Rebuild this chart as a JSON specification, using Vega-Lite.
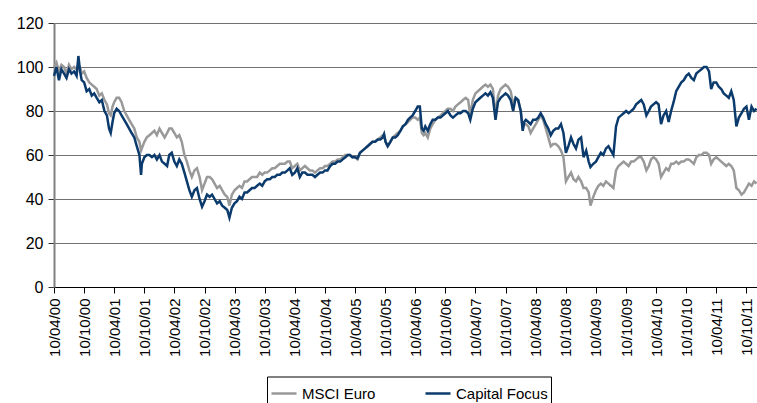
{
  "$schema": "https://vega.github.io/schema/vega-lite/v6.json",
  "width": 703,
  "height": 264,
  "autosize": {"type": "none"},
  "padding": {"left": 54, "top": 23, "right": 0, "bottom": 116},
  "background": "white",
  "config": {"font": "Liberation Sans", "view": {"stroke": null}},
  "data": {"values": [
    {"d":"2000-04-10","MSCI Euro":100,"Capital Focus":96},
    {"d":"2000-04-25","MSCI Euro":102,"Capital Focus":100},
    {"d":"2000-05-10","MSCI Euro":98,"Capital Focus":94},
    {"d":"2000-05-25","MSCI Euro":101,"Capital Focus":99},
    {"d":"2000-06-10","MSCI Euro":100,"Capital Focus":97},
    {"d":"2000-06-25","MSCI Euro":97,"Capital Focus":95},
    {"d":"2000-07-10","MSCI Euro":101,"Capital Focus":99},
    {"d":"2000-07-25","MSCI Euro":99,"Capital Focus":97},
    {"d":"2000-08-10","MSCI Euro":100,"Capital Focus":98},
    {"d":"2000-08-25","MSCI Euro":99,"Capital Focus":96},
    {"d":"2000-09-05","MSCI Euro":101,"Capital Focus":105},
    {"d":"2000-09-15","MSCI Euro":100,"Capital Focus":98},
    {"d":"2000-09-25","MSCI Euro":97,"Capital Focus":94},
    {"d":"2000-10-10","MSCI Euro":98,"Capital Focus":93},
    {"d":"2000-10-25","MSCI Euro":95,"Capital Focus":89},
    {"d":"2000-11-10","MSCI Euro":93,"Capital Focus":90},
    {"d":"2000-11-25","MSCI Euro":92,"Capital Focus":87},
    {"d":"2000-12-10","MSCI Euro":91,"Capital Focus":88},
    {"d":"2000-12-25","MSCI Euro":90,"Capital Focus":86},
    {"d":"2001-01-10","MSCI Euro":87,"Capital Focus":84},
    {"d":"2001-01-25","MSCI Euro":88,"Capital Focus":85},
    {"d":"2001-02-10","MSCI Euro":85,"Capital Focus":80},
    {"d":"2001-02-25","MSCI Euro":83,"Capital Focus":78},
    {"d":"2001-03-10","MSCI Euro":79,"Capital Focus":72},
    {"d":"2001-03-20","MSCI Euro":78,"Capital Focus":70},
    {"d":"2001-03-31","MSCI Euro":82,"Capital Focus":75},
    {"d":"2001-04-10","MSCI Euro":84,"Capital Focus":79},
    {"d":"2001-04-25","MSCI Euro":86,"Capital Focus":81},
    {"d":"2001-05-10","MSCI Euro":86,"Capital Focus":80},
    {"d":"2001-05-25","MSCI Euro":84,"Capital Focus":78},
    {"d":"2001-06-10","MSCI Euro":80,"Capital Focus":76},
    {"d":"2001-06-25","MSCI Euro":78,"Capital Focus":74},
    {"d":"2001-07-10","MSCI Euro":76,"Capital Focus":72},
    {"d":"2001-07-25","MSCI Euro":74,"Capital Focus":70},
    {"d":"2001-08-10","MSCI Euro":72,"Capital Focus":68},
    {"d":"2001-08-25","MSCI Euro":68,"Capital Focus":64},
    {"d":"2001-09-10","MSCI Euro":66,"Capital Focus":60},
    {"d":"2001-09-20","MSCI Euro":62,"Capital Focus":51},
    {"d":"2001-09-25","MSCI Euro":63,"Capital Focus":56},
    {"d":"2001-10-10","MSCI Euro":66,"Capital Focus":59},
    {"d":"2001-10-25","MSCI Euro":68,"Capital Focus":60},
    {"d":"2001-11-10","MSCI Euro":69,"Capital Focus":60},
    {"d":"2001-11-25","MSCI Euro":70,"Capital Focus":59},
    {"d":"2001-12-10","MSCI Euro":71,"Capital Focus":60},
    {"d":"2001-12-25","MSCI Euro":69,"Capital Focus":58},
    {"d":"2002-01-10","MSCI Euro":72,"Capital Focus":60},
    {"d":"2002-01-25","MSCI Euro":70,"Capital Focus":57},
    {"d":"2002-02-10","MSCI Euro":68,"Capital Focus":56},
    {"d":"2002-02-25","MSCI Euro":70,"Capital Focus":55},
    {"d":"2002-03-10","MSCI Euro":72,"Capital Focus":60},
    {"d":"2002-03-25","MSCI Euro":72,"Capital Focus":61},
    {"d":"2002-04-10","MSCI Euro":70,"Capital Focus":57},
    {"d":"2002-04-25","MSCI Euro":68,"Capital Focus":55},
    {"d":"2002-05-10","MSCI Euro":69,"Capital Focus":58},
    {"d":"2002-05-25","MSCI Euro":66,"Capital Focus":56},
    {"d":"2002-06-10","MSCI Euro":60,"Capital Focus":52},
    {"d":"2002-06-25","MSCI Euro":57,"Capital Focus":48},
    {"d":"2002-07-10","MSCI Euro":53,"Capital Focus":44},
    {"d":"2002-07-25","MSCI Euro":50,"Capital Focus":41},
    {"d":"2002-08-10","MSCI Euro":53,"Capital Focus":44},
    {"d":"2002-08-25","MSCI Euro":54,"Capital Focus":45},
    {"d":"2002-09-10","MSCI Euro":50,"Capital Focus":40},
    {"d":"2002-09-25","MSCI Euro":44,"Capital Focus":36.5},
    {"d":"2002-10-10","MSCI Euro":47,"Capital Focus":39},
    {"d":"2002-10-25","MSCI Euro":50,"Capital Focus":42},
    {"d":"2002-11-10","MSCI Euro":50,"Capital Focus":41},
    {"d":"2002-11-25","MSCI Euro":49,"Capital Focus":42},
    {"d":"2002-12-10","MSCI Euro":47,"Capital Focus":40},
    {"d":"2002-12-25","MSCI Euro":45,"Capital Focus":38},
    {"d":"2003-01-10","MSCI Euro":46,"Capital Focus":39},
    {"d":"2003-01-25","MSCI Euro":44,"Capital Focus":37},
    {"d":"2003-02-10","MSCI Euro":42,"Capital Focus":36},
    {"d":"2003-02-25","MSCI Euro":41,"Capital Focus":35},
    {"d":"2003-03-10","MSCI Euro":37,"Capital Focus":31.5},
    {"d":"2003-03-25","MSCI Euro":42,"Capital Focus":36},
    {"d":"2003-04-10","MSCI Euro":44,"Capital Focus":38},
    {"d":"2003-04-25","MSCI Euro":45,"Capital Focus":39},
    {"d":"2003-05-10","MSCI Euro":46,"Capital Focus":41},
    {"d":"2003-05-25","MSCI Euro":45,"Capital Focus":40},
    {"d":"2003-06-10","MSCI Euro":48,"Capital Focus":43},
    {"d":"2003-06-25","MSCI Euro":48,"Capital Focus":43},
    {"d":"2003-07-10","MSCI Euro":49,"Capital Focus":44},
    {"d":"2003-07-25","MSCI Euro":50,"Capital Focus":45},
    {"d":"2003-08-10","MSCI Euro":50,"Capital Focus":45},
    {"d":"2003-08-25","MSCI Euro":50,"Capital Focus":46},
    {"d":"2003-09-10","MSCI Euro":52,"Capital Focus":47},
    {"d":"2003-09-25","MSCI Euro":51,"Capital Focus":46},
    {"d":"2003-10-10","MSCI Euro":52,"Capital Focus":48},
    {"d":"2003-10-25","MSCI Euro":52,"Capital Focus":49},
    {"d":"2003-11-10","MSCI Euro":53,"Capital Focus":49},
    {"d":"2003-11-25","MSCI Euro":54,"Capital Focus":50},
    {"d":"2003-12-10","MSCI Euro":54,"Capital Focus":50},
    {"d":"2003-12-25","MSCI Euro":55,"Capital Focus":51},
    {"d":"2004-01-10","MSCI Euro":56,"Capital Focus":51},
    {"d":"2004-01-25","MSCI Euro":56,"Capital Focus":52},
    {"d":"2004-02-10","MSCI Euro":56,"Capital Focus":52},
    {"d":"2004-02-25","MSCI Euro":57,"Capital Focus":53},
    {"d":"2004-03-10","MSCI Euro":57,"Capital Focus":54},
    {"d":"2004-03-25","MSCI Euro":54,"Capital Focus":51},
    {"d":"2004-04-10","MSCI Euro":55,"Capital Focus":52},
    {"d":"2004-04-25","MSCI Euro":56,"Capital Focus":54},
    {"d":"2004-05-10","MSCI Euro":53,"Capital Focus":50},
    {"d":"2004-05-25","MSCI Euro":54,"Capital Focus":52},
    {"d":"2004-06-10","MSCI Euro":55,"Capital Focus":52},
    {"d":"2004-06-25","MSCI Euro":54,"Capital Focus":51},
    {"d":"2004-07-10","MSCI Euro":53,"Capital Focus":51},
    {"d":"2004-07-25","MSCI Euro":53,"Capital Focus":51},
    {"d":"2004-08-10","MSCI Euro":52,"Capital Focus":50},
    {"d":"2004-08-25","MSCI Euro":53,"Capital Focus":51},
    {"d":"2004-09-10","MSCI Euro":54,"Capital Focus":52},
    {"d":"2004-09-25","MSCI Euro":54,"Capital Focus":52},
    {"d":"2004-10-10","MSCI Euro":55,"Capital Focus":53},
    {"d":"2004-10-25","MSCI Euro":55,"Capital Focus":53},
    {"d":"2004-11-10","MSCI Euro":56,"Capital Focus":55},
    {"d":"2004-11-25","MSCI Euro":57,"Capital Focus":56},
    {"d":"2004-12-10","MSCI Euro":57,"Capital Focus":56},
    {"d":"2004-12-25","MSCI Euro":58,"Capital Focus":57},
    {"d":"2005-01-10","MSCI Euro":58,"Capital Focus":57},
    {"d":"2005-01-25","MSCI Euro":59,"Capital Focus":58},
    {"d":"2005-02-10","MSCI Euro":60,"Capital Focus":59},
    {"d":"2005-02-25","MSCI Euro":60,"Capital Focus":60},
    {"d":"2005-03-10","MSCI Euro":60,"Capital Focus":60},
    {"d":"2005-03-25","MSCI Euro":59,"Capital Focus":59},
    {"d":"2005-04-10","MSCI Euro":59,"Capital Focus":59},
    {"d":"2005-04-25","MSCI Euro":58,"Capital Focus":58.5},
    {"d":"2005-05-10","MSCI Euro":61,"Capital Focus":61},
    {"d":"2005-05-25","MSCI Euro":62,"Capital Focus":62},
    {"d":"2005-06-10","MSCI Euro":63,"Capital Focus":63},
    {"d":"2005-06-25","MSCI Euro":64,"Capital Focus":64},
    {"d":"2005-07-10","MSCI Euro":65,"Capital Focus":65},
    {"d":"2005-07-25","MSCI Euro":66,"Capital Focus":66},
    {"d":"2005-08-10","MSCI Euro":66,"Capital Focus":66},
    {"d":"2005-08-25","MSCI Euro":67,"Capital Focus":67},
    {"d":"2005-09-10","MSCI Euro":68,"Capital Focus":67},
    {"d":"2005-09-25","MSCI Euro":69,"Capital Focus":68},
    {"d":"2005-10-03","MSCI Euro":69,"Capital Focus":69.5},
    {"d":"2005-10-12","MSCI Euro":66,"Capital Focus":66},
    {"d":"2005-10-25","MSCI Euro":64,"Capital Focus":64},
    {"d":"2005-11-10","MSCI Euro":66,"Capital Focus":66},
    {"d":"2005-11-25","MSCI Euro":68,"Capital Focus":68},
    {"d":"2005-12-10","MSCI Euro":69,"Capital Focus":68},
    {"d":"2005-12-25","MSCI Euro":70,"Capital Focus":69},
    {"d":"2006-01-10","MSCI Euro":71,"Capital Focus":71},
    {"d":"2006-01-25","MSCI Euro":73,"Capital Focus":73},
    {"d":"2006-02-10","MSCI Euro":74,"Capital Focus":74},
    {"d":"2006-02-25","MSCI Euro":75,"Capital Focus":76},
    {"d":"2006-03-10","MSCI Euro":76,"Capital Focus":77},
    {"d":"2006-03-25","MSCI Euro":77,"Capital Focus":78},
    {"d":"2006-04-10","MSCI Euro":77,"Capital Focus":80},
    {"d":"2006-04-25","MSCI Euro":76,"Capital Focus":82},
    {"d":"2006-05-08","MSCI Euro":77,"Capital Focus":82},
    {"d":"2006-05-20","MSCI Euro":70,"Capital Focus":72},
    {"d":"2006-05-31","MSCI Euro":69,"Capital Focus":71},
    {"d":"2006-06-10","MSCI Euro":70,"Capital Focus":73},
    {"d":"2006-06-25","MSCI Euro":68,"Capital Focus":71},
    {"d":"2006-07-10","MSCI Euro":72,"Capital Focus":74},
    {"d":"2006-07-25","MSCI Euro":74,"Capital Focus":76},
    {"d":"2006-08-10","MSCI Euro":76,"Capital Focus":76},
    {"d":"2006-08-25","MSCI Euro":77,"Capital Focus":77},
    {"d":"2006-09-10","MSCI Euro":78,"Capital Focus":77},
    {"d":"2006-09-25","MSCI Euro":79,"Capital Focus":78},
    {"d":"2006-10-10","MSCI Euro":80,"Capital Focus":79},
    {"d":"2006-10-25","MSCI Euro":81,"Capital Focus":80},
    {"d":"2006-11-10","MSCI Euro":81,"Capital Focus":78},
    {"d":"2006-11-25","MSCI Euro":80,"Capital Focus":77},
    {"d":"2006-12-10","MSCI Euro":82,"Capital Focus":78},
    {"d":"2006-12-25","MSCI Euro":83,"Capital Focus":79},
    {"d":"2007-01-10","MSCI Euro":84,"Capital Focus":79},
    {"d":"2007-01-25","MSCI Euro":85,"Capital Focus":80},
    {"d":"2007-02-10","MSCI Euro":86,"Capital Focus":80},
    {"d":"2007-02-25","MSCI Euro":85,"Capital Focus":79},
    {"d":"2007-03-10","MSCI Euro":78,"Capital Focus":76},
    {"d":"2007-03-25","MSCI Euro":85,"Capital Focus":81},
    {"d":"2007-04-10","MSCI Euro":88,"Capital Focus":84},
    {"d":"2007-04-25","MSCI Euro":89,"Capital Focus":85},
    {"d":"2007-05-10","MSCI Euro":90,"Capital Focus":86},
    {"d":"2007-05-25","MSCI Euro":91,"Capital Focus":87},
    {"d":"2007-06-10","MSCI Euro":92,"Capital Focus":88},
    {"d":"2007-06-25","MSCI Euro":91,"Capital Focus":87},
    {"d":"2007-07-10","MSCI Euro":92,"Capital Focus":88.5},
    {"d":"2007-07-25","MSCI Euro":90,"Capital Focus":86},
    {"d":"2007-08-10","MSCI Euro":78,"Capital Focus":76},
    {"d":"2007-08-25","MSCI Euro":87,"Capital Focus":84},
    {"d":"2007-09-10","MSCI Euro":90,"Capital Focus":86},
    {"d":"2007-09-25","MSCI Euro":91,"Capital Focus":87},
    {"d":"2007-10-10","MSCI Euro":92,"Capital Focus":88},
    {"d":"2007-10-25","MSCI Euro":91,"Capital Focus":87},
    {"d":"2007-11-10","MSCI Euro":89,"Capital Focus":85},
    {"d":"2007-11-25","MSCI Euro":83,"Capital Focus":80},
    {"d":"2007-12-10","MSCI Euro":86,"Capital Focus":86},
    {"d":"2007-12-25","MSCI Euro":85,"Capital Focus":85},
    {"d":"2008-01-10","MSCI Euro":80,"Capital Focus":80},
    {"d":"2008-01-22","MSCI Euro":72,"Capital Focus":71},
    {"d":"2008-01-31","MSCI Euro":74,"Capital Focus":75},
    {"d":"2008-02-10","MSCI Euro":74,"Capital Focus":76},
    {"d":"2008-02-25","MSCI Euro":73,"Capital Focus":75},
    {"d":"2008-03-10","MSCI Euro":70,"Capital Focus":74},
    {"d":"2008-03-25","MSCI Euro":72,"Capital Focus":76},
    {"d":"2008-04-10","MSCI Euro":74,"Capital Focus":76},
    {"d":"2008-04-25","MSCI Euro":76,"Capital Focus":77},
    {"d":"2008-05-10","MSCI Euro":78,"Capital Focus":79},
    {"d":"2008-05-25","MSCI Euro":76,"Capital Focus":77},
    {"d":"2008-06-10","MSCI Euro":72,"Capital Focus":74},
    {"d":"2008-06-25","MSCI Euro":68,"Capital Focus":72},
    {"d":"2008-07-10","MSCI Euro":64,"Capital Focus":69},
    {"d":"2008-07-25","MSCI Euro":65,"Capital Focus":71},
    {"d":"2008-08-10","MSCI Euro":65,"Capital Focus":72},
    {"d":"2008-08-25","MSCI Euro":64,"Capital Focus":72},
    {"d":"2008-09-10","MSCI Euro":62,"Capital Focus":74},
    {"d":"2008-09-25","MSCI Euro":59,"Capital Focus":70},
    {"d":"2008-10-10","MSCI Euro":48,"Capital Focus":61},
    {"d":"2008-10-25","MSCI Euro":50,"Capital Focus":64},
    {"d":"2008-11-10","MSCI Euro":52,"Capital Focus":68},
    {"d":"2008-11-25","MSCI Euro":49,"Capital Focus":65},
    {"d":"2008-12-10","MSCI Euro":48,"Capital Focus":63},
    {"d":"2008-12-25","MSCI Euro":50,"Capital Focus":67},
    {"d":"2009-01-10","MSCI Euro":48,"Capital Focus":68},
    {"d":"2009-01-25","MSCI Euro":45,"Capital Focus":59},
    {"d":"2009-02-10","MSCI Euro":45,"Capital Focus":62},
    {"d":"2009-02-25","MSCI Euro":43,"Capital Focus":57},
    {"d":"2009-03-08","MSCI Euro":37,"Capital Focus":54.5},
    {"d":"2009-03-25","MSCI Euro":41,"Capital Focus":56},
    {"d":"2009-04-10","MSCI Euro":44,"Capital Focus":57},
    {"d":"2009-04-25","MSCI Euro":46,"Capital Focus":59},
    {"d":"2009-05-10","MSCI Euro":47,"Capital Focus":61},
    {"d":"2009-05-25","MSCI Euro":46,"Capital Focus":60},
    {"d":"2009-06-10","MSCI Euro":48,"Capital Focus":63},
    {"d":"2009-06-25","MSCI Euro":47,"Capital Focus":64},
    {"d":"2009-07-10","MSCI Euro":46,"Capital Focus":62},
    {"d":"2009-07-25","MSCI Euro":45,"Capital Focus":60},
    {"d":"2009-08-10","MSCI Euro":53,"Capital Focus":73},
    {"d":"2009-08-25","MSCI Euro":55,"Capital Focus":77},
    {"d":"2009-09-10","MSCI Euro":56,"Capital Focus":78},
    {"d":"2009-09-25","MSCI Euro":57,"Capital Focus":79},
    {"d":"2009-10-10","MSCI Euro":56,"Capital Focus":80},
    {"d":"2009-10-25","MSCI Euro":55,"Capital Focus":79},
    {"d":"2009-11-10","MSCI Euro":57,"Capital Focus":80},
    {"d":"2009-11-25","MSCI Euro":57,"Capital Focus":81},
    {"d":"2009-12-10","MSCI Euro":58,"Capital Focus":83},
    {"d":"2009-12-25","MSCI Euro":59,"Capital Focus":84},
    {"d":"2010-01-10","MSCI Euro":59,"Capital Focus":85},
    {"d":"2010-01-25","MSCI Euro":57,"Capital Focus":83},
    {"d":"2010-02-10","MSCI Euro":53,"Capital Focus":78},
    {"d":"2010-02-25","MSCI Euro":55,"Capital Focus":80},
    {"d":"2010-03-10","MSCI Euro":58,"Capital Focus":82},
    {"d":"2010-03-25","MSCI Euro":59,"Capital Focus":83},
    {"d":"2010-04-10","MSCI Euro":58,"Capital Focus":84},
    {"d":"2010-04-25","MSCI Euro":56,"Capital Focus":83},
    {"d":"2010-05-10","MSCI Euro":50,"Capital Focus":74},
    {"d":"2010-05-25","MSCI Euro":52,"Capital Focus":78},
    {"d":"2010-06-10","MSCI Euro":54,"Capital Focus":80},
    {"d":"2010-06-25","MSCI Euro":53,"Capital Focus":75},
    {"d":"2010-07-10","MSCI Euro":56,"Capital Focus":80},
    {"d":"2010-07-25","MSCI Euro":56,"Capital Focus":84},
    {"d":"2010-08-10","MSCI Euro":57,"Capital Focus":89},
    {"d":"2010-08-25","MSCI Euro":56,"Capital Focus":91},
    {"d":"2010-09-10","MSCI Euro":57,"Capital Focus":93},
    {"d":"2010-09-25","MSCI Euro":57,"Capital Focus":94},
    {"d":"2010-10-10","MSCI Euro":58,"Capital Focus":96},
    {"d":"2010-10-25","MSCI Euro":58,"Capital Focus":97},
    {"d":"2010-11-10","MSCI Euro":57,"Capital Focus":95},
    {"d":"2010-11-25","MSCI Euro":56,"Capital Focus":94},
    {"d":"2010-12-10","MSCI Euro":59,"Capital Focus":97},
    {"d":"2010-12-25","MSCI Euro":60,"Capital Focus":98},
    {"d":"2011-01-10","MSCI Euro":60,"Capital Focus":99},
    {"d":"2011-01-25","MSCI Euro":61,"Capital Focus":100},
    {"d":"2011-02-10","MSCI Euro":61,"Capital Focus":100},
    {"d":"2011-02-25","MSCI Euro":60,"Capital Focus":98},
    {"d":"2011-03-10","MSCI Euro":56,"Capital Focus":90},
    {"d":"2011-03-25","MSCI Euro":58,"Capital Focus":93},
    {"d":"2011-04-10","MSCI Euro":59,"Capital Focus":93},
    {"d":"2011-04-25","MSCI Euro":58,"Capital Focus":91},
    {"d":"2011-05-10","MSCI Euro":57,"Capital Focus":90},
    {"d":"2011-05-25","MSCI Euro":56,"Capital Focus":88},
    {"d":"2011-06-10","MSCI Euro":55,"Capital Focus":87},
    {"d":"2011-06-25","MSCI Euro":56,"Capital Focus":86},
    {"d":"2011-07-10","MSCI Euro":55,"Capital Focus":89},
    {"d":"2011-07-25","MSCI Euro":53,"Capital Focus":85},
    {"d":"2011-08-10","MSCI Euro":45,"Capital Focus":73},
    {"d":"2011-08-25","MSCI Euro":44,"Capital Focus":77},
    {"d":"2011-09-10","MSCI Euro":42,"Capital Focus":79},
    {"d":"2011-09-25","MSCI Euro":43,"Capital Focus":81},
    {"d":"2011-10-10","MSCI Euro":45,"Capital Focus":82},
    {"d":"2011-10-25","MSCI Euro":47,"Capital Focus":76},
    {"d":"2011-11-10","MSCI Euro":46,"Capital Focus":82},
    {"d":"2011-11-25","MSCI Euro":48,"Capital Focus":80},
    {"d":"2011-12-10","MSCI Euro":47,"Capital Focus":81}
  ]},
  "transform": [{"fold": ["MSCI Euro", "Capital Focus"], "as": ["series", "value"]}],
  "mark": {"type": "line", "strokeWidth": 2.5},
  "encoding": {
    "x": {
      "field": "d", "type": "temporal",
      "scale": {"type": "utc", "domain": [{"year": 2000, "month": 4, "date": 10, "utc": true}, {"year": 2011, "month": 12, "date": 13, "utc": true}]},
      "axis": {
        "values": [
          {"year": 2000, "month": 4, "date": 10, "utc": true}, {"year": 2000, "month": 10, "date": 10, "utc": true},
          {"year": 2001, "month": 4, "date": 10, "utc": true}, {"year": 2001, "month": 10, "date": 10, "utc": true},
          {"year": 2002, "month": 4, "date": 10, "utc": true}, {"year": 2002, "month": 10, "date": 10, "utc": true},
          {"year": 2003, "month": 4, "date": 10, "utc": true}, {"year": 2003, "month": 10, "date": 10, "utc": true},
          {"year": 2004, "month": 4, "date": 10, "utc": true}, {"year": 2004, "month": 10, "date": 10, "utc": true},
          {"year": 2005, "month": 4, "date": 10, "utc": true}, {"year": 2005, "month": 10, "date": 10, "utc": true},
          {"year": 2006, "month": 4, "date": 10, "utc": true}, {"year": 2006, "month": 10, "date": 10, "utc": true},
          {"year": 2007, "month": 4, "date": 10, "utc": true}, {"year": 2007, "month": 10, "date": 10, "utc": true},
          {"year": 2008, "month": 4, "date": 10, "utc": true}, {"year": 2008, "month": 10, "date": 10, "utc": true},
          {"year": 2009, "month": 4, "date": 10, "utc": true}, {"year": 2009, "month": 10, "date": 10, "utc": true},
          {"year": 2010, "month": 4, "date": 10, "utc": true}, {"year": 2010, "month": 10, "date": 10, "utc": true},
          {"year": 2011, "month": 4, "date": 10, "utc": true}, {"year": 2011, "month": 10, "date": 10, "utc": true}
        ],
        "labelExpr": "utcFormat(datum.value, '%d/%m/%y')",
        "labelAngle": 270, "labelFontSize": 15, "labelColor": "black",
        "labelOverlap": false, "labelFlush": false, "labelBound": false,
        "grid": false, "domainColor": "black", "tickColor": "black", "tickSize": 6, "labelPadding": 5,
        "title": null
      }
    },
    "y": {
      "field": "value", "type": "quantitative",
      "scale": {"domain": [0, 120], "nice": false},
      "axis": {
        "values": [0, 20, 40, 60, 80, 100, 120],
        "grid": true, "gridColor": "#707070", "gridWidth": 1,
        "domainColor": "#808080", "domainWidth": 2,
        "tickColor": "#333333", "tickSize": 6,
        "labelFontSize": 16, "labelColor": "black", "labelPadding": 5,
        "title": null
      }
    },
    "color": {
      "field": "series", "type": "nominal",
      "scale": {"domain": ["MSCI Euro", "Capital Focus"], "range": ["#999999", "#0b3a6c"]},
      "legend": {
        "orient": "none", "legendX": 213, "legendY": 353.5, "direction": "horizontal",
        "title": null, "strokeColor": "black", "fillColor": "white", "padding": 3,
        "symbolType": "stroke", "symbolSize": 625, "symbolStrokeWidth": 2.5,
        "labelFontSize": 15, "labelColor": "black", "columnPadding": 44
      }
    }
  }
}
